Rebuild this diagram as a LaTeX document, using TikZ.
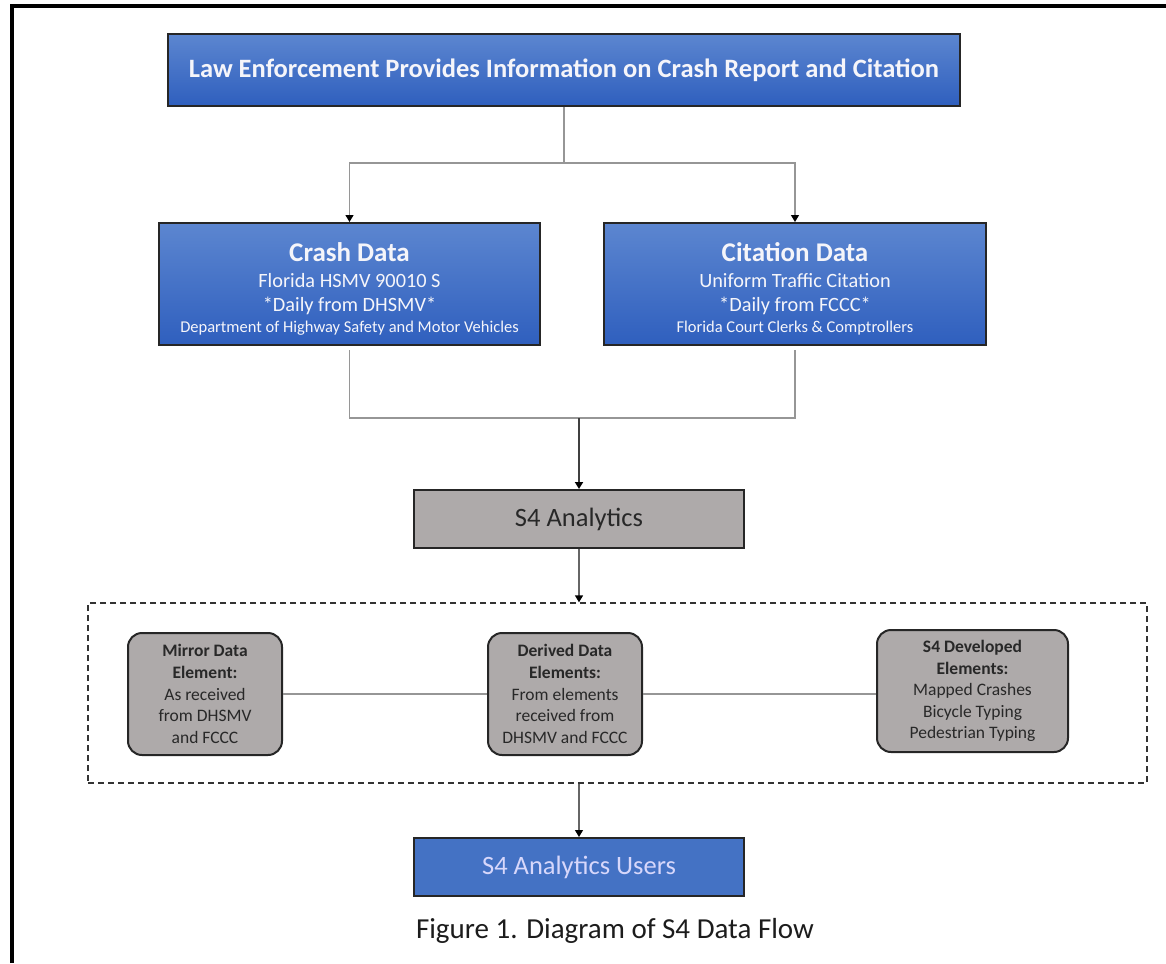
\documentclass[tikz,border=0pt]{standalone}
\usepackage{fontspec}
\setmainfont{Carlito}
\usetikzlibrary{arrows.meta}
\definecolor{bluetop}{RGB}{92,134,208}
\definecolor{bluebot}{RGB}{47,95,190}
\definecolor{blueflat}{RGB}{68,114,196}
\definecolor{boxgray}{RGB}{174,170,170}
\definecolor{linegray}{RGB}{150,150,150}
\definecolor{txtwhite}{RGB}{245,245,250}
\definecolor{txtdark}{RGB}{40,40,40}
\begin{document}
\begin{tikzpicture}[x=1pt,y=-1pt,
  bluebox/.style={draw=black!85,line width=2pt,top color=bluetop,bottom color=bluebot,
    text=txtwhite,align=center,inner sep=0pt,anchor=center},
  bluetext/.style={text=txtwhite,align=center,inner sep=0pt,anchor=center,font=\fontsize{20.3}{24}\selectfont},
  graybox/.style={draw=black!85,line width=2pt,fill=boxgray,text=txtdark,align=center,inner sep=0pt,anchor=center},
  elbox/.style={graybox,rounded corners=14pt,font=\fontsize{17.5}{21.6}\selectfont},
  conn/.style={draw=linegray,line width=1.3pt},
  tip/.style={-{Triangle[width=8pt,length=7pt,color=black]}},
  frame/.style={draw=black,line width=4pt},
  container/.style={draw=black!80,line width=1.3pt,dash pattern=on 6pt off 4pt,inner sep=0pt,anchor=center}
]
\useasboundingbox (0,0) rectangle (1166,963);
\draw[frame] (12,963) -- (12,6) -- (1168,6);

\node[bluebox,minimum width=792pt,minimum height=72pt,font=\fontsize{26.5}{30}\selectfont\bfseries] (top) at (564,70)
  {Law Enforcement Provides Information on Crash Report and Citation};

\node[bluebox,minimum width=381pt,minimum height=122pt] (crash) at (349.5,284) {};
\node[bluetext] (crashtxt) at (349.5,288.5)
  {{\fontsize{27}{30}\selectfont\bfseries Crash Data}\\[2pt]
   Florida HSMV 90010 S\\
   *Daily from DHSMV*\\[-3pt]
   {\fontsize{16.5}{20}\selectfont Department of Highway Safety and Motor Vehicles}};

\node[bluebox,minimum width=382pt,minimum height=122pt] (cit) at (795,284) {};
\node[bluetext] (cittxt) at (795,288.5)
  {{\fontsize{27}{30}\selectfont\bfseries Citation Data}\\[2pt]
   Uniform Traffic Citation\\
   *Daily from FCCC*\\[-3pt]
   {\fontsize{16.5}{20}\selectfont Florida Court Clerks \& Comptrollers}};

\node[graybox,minimum width=330pt,minimum height=58pt,font=\fontsize{26.5}{30}\selectfont] (s4) at (579,519) {S4 Analytics};

\node[container,minimum width=1059pt,minimum height=180pt] (cont) at (617.5,693) {};

\node[elbox,minimum width=154pt,minimum height=122pt] (mirror) at (205,694)
  {\textbf{Mirror Data}\\\textbf{Element:}\\As received\\from DHSMV\\and FCCC};
\node[elbox,minimum width=154pt,minimum height=122pt] (derived) at (565,694)
  {\textbf{Derived Data}\\\textbf{Elements:}\\From elements\\received from\\DHSMV and FCCC};
\node[elbox,minimum width=191pt,minimum height=122pt] (dev) at (972.5,691)
  {\textbf{S4 Developed}\\\textbf{Elements:}\\Mapped Crashes\\Bicycle Typing\\Pedestrian Typing};

\node[bluebox,top color=blueflat,bottom color=blueflat,minimum width=330pt,minimum height=58pt,
  font=\fontsize{26.5}{30}\selectfont,text=txtwhite!88!blue] (users) at (579,867) {S4 Analytics Users};

\node[text=txtdark!70!black,font=\fontsize{29}{34}\selectfont,anchor=center] (cap) at (615,931)
  {Figure 1. Diagram of S4 Data Flow};

% connectors
\coordinate (j1) at (564,163);
\coordinate (j2) at (579,418);
\draw[conn] (top.south) -- (j1);
\draw[conn,tip] (j1) -| (crash.north);
\draw[conn,tip] (j1) -| (cit.north);
\draw[conn,shorten <=4pt] (crash.south) |- (j2);
\draw[conn,shorten <=4pt] (cit.south) |- (j2);
\draw[draw=black!75,line width=2pt,tip] (j2) -- (s4.north);
\draw[conn,draw=black!60,tip] (s4.south) -- (s4.south |- cont.north);
\draw[conn,draw=black!60,tip] (users.north |- cont.south) -- (users.north);
\draw[conn] (mirror.east) -- (derived.west);
\draw[conn] (derived.east) -- (derived.east -| dev.west);
\end{tikzpicture}
\end{document}
